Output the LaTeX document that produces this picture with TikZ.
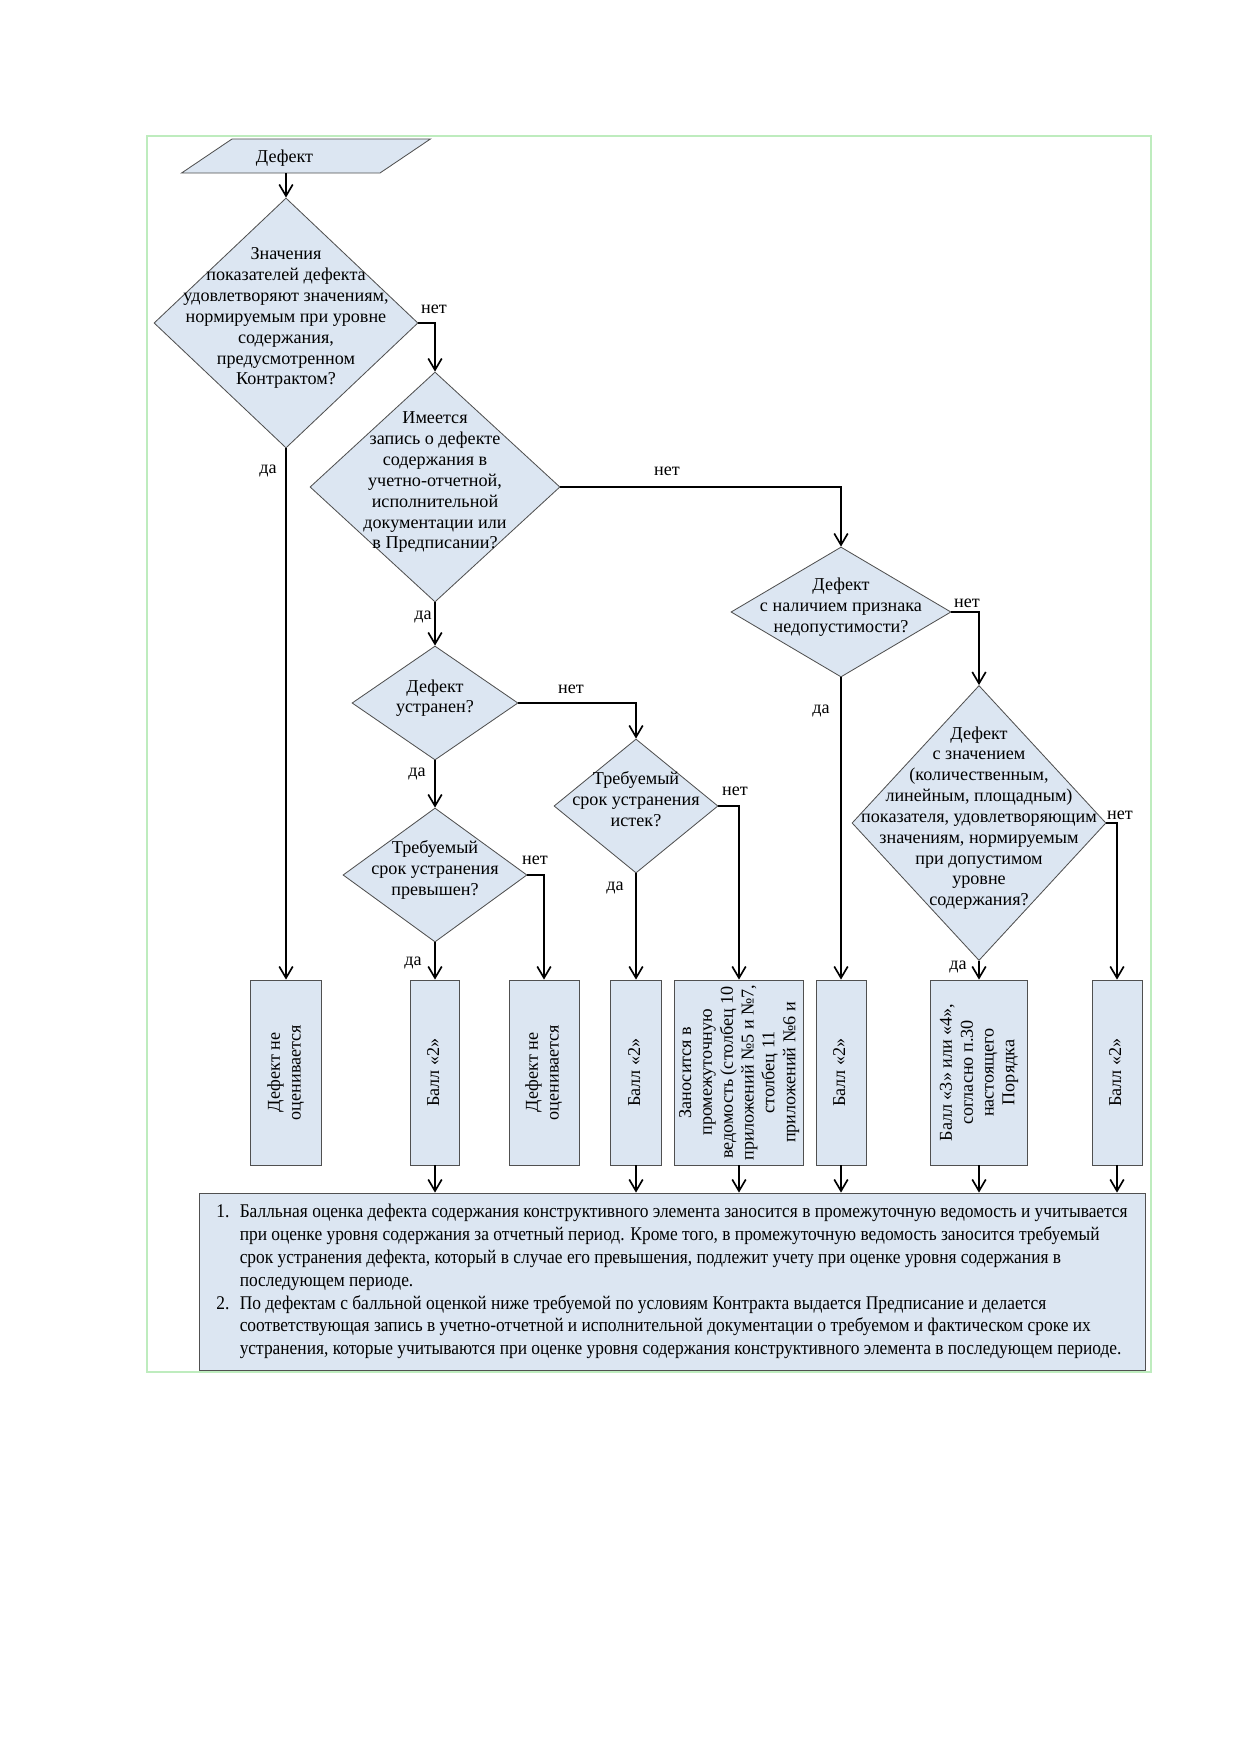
\documentclass[tikz,border=0pt]{standalone}
\usepackage{fontspec}
\setmainfont{Liberation Serif}
\newfontfamily\noteFont[FakeStretch=0.898]{Liberation Serif}
\usetikzlibrary{shapes.geometric}
\usetikzlibrary{arrows.meta}
\definecolor{shapeFill}{RGB}{220,230,242}
\definecolor{shapeBorder}{RGB}{80,80,80}
\definecolor{frameGreen}{RGB}{190,236,190}
\newcommand{\px}{0.48pt}
\newcommand{\questionText}[1]{%%
  \makebox[0pt]{\smash{\begin{tabular}{@{}c@{}}#1\end{tabular}}}%%
}
\newcommand{\sideText}[1]{%%
  \rotatebox{90}{\begin{tabular}{@{}c@{}}#1\end{tabular}}%%
}

\begin{document}
\begin{tikzpicture}[%%
  x=0.48pt,y=-0.48pt,%%
  every node/.style={font=\fontsize{8.7}{10}\selectfont},%%
  frameStyle/.style={draw=frameGreen,line width=0.7pt},%%
  inputStyle/.style={draw=shapeBorder,fill=shapeFill,trapezium,trapezium left angle=34,trapezium right angle=146,inner sep=0pt,text width=148*\px,text height=23*\px,text depth=11*\px,align=left},%%
  decisionStyle/.style 2 args={draw=shapeBorder,fill=shapeFill,diamond,inner sep=0pt,minimum width=#1*\px,minimum height=#2*\px},%%
  resultStyle/.style={draw=shapeBorder,fill=shapeFill,rectangle,inner sep=0pt,minimum width=#1*\px,minimum height=185*\px},%%
  noteStyle/.style={draw=shapeBorder,fill=shapeFill,rectangle,inner sep=0pt,minimum width=946*\px,minimum height=177*\px,font=\fontsize{9.3}{11}\selectfont\noteFont},%%
  lineStyle/.style={-{Straight Barb[length=5.5pt,width=6.5pt]},line width=0.8pt},%%
  labelStyle/.style={inner sep=0pt}%%
]
%% Page and frame.
\useasboundingbox (0,0) rectangle (1239,1752);
\draw[frameStyle] (147,136) rectangle (1151,1372);
%% Input.
\node[inputStyle] (defect) at (306,156) {\hspace*{11.5pt}Дефект};
%% Questions.
\node[decisionStyle={264}{250}] (d1) at (286,323) {\questionText{Значения\\показателей дефекта\\удовлетворяют значениям,\\нормируемым при уровне\\содержания,\\предусмотренном\\Контрактом?}};
\node[decisionStyle={250}{230}] (d2) at (435,487) {\questionText{Имеется\\запись о дефекте\\содержания в\\учетно-отчетной,\\исполнительной\\документации или\\в Предписании?}};
\node[decisionStyle={166}{114}] (d3) at (435,703) {\questionText{Дефект\\устранен?}};
\node[decisionStyle={220}{130}] (d4) at (841,612) {\questionText{Дефект\\с наличием признака\\недопустимости?}};
\node[decisionStyle={254}{275}] (d5) at (979,823) {\questionText{Дефект\\с значением\\(количественным,\\линейным, площадным)\\показателя, удовлетворяющим\\значениям, нормируемым\\при допустимом\\уровне\\содержания?}};
\node[decisionStyle={164}{134}] (d6) at (636,806) {\questionText{Требуемый\\срок устранения\\истек?}};
\node[decisionStyle={184}{134}] (d7) at (435,875) {\questionText{Требуемый\\срок устранения\\превышен?}};
%% Results.
\node[resultStyle=71] (b1) at (286,1072.5) {\sideText{Дефект не\\оценивается}};
\node[resultStyle=49] (b2) at (435,1072.5) {\sideText{Балл «2»}};
\node[resultStyle=70] (b3) at (544,1072.5) {\sideText{Дефект не\\оценивается}};
\node[resultStyle=51] (b4) at (636,1072.5) {\sideText{Балл «2»}};
\node[resultStyle=129] (b5) at (739,1072.5) {\sideText{Заносится в\\промежуточную\\ведомость (столбец 10\\приложений №5 и №7,\\столбец 11\\приложений №6 и}};
\node[resultStyle=50] (b6) at (841,1072.5) {\sideText{Балл «2»}};
\node[resultStyle=97] (b7) at (979,1072.5) {\sideText{Балл «3» или «4»,\\согласно п.30\\настоящего\\Порядка}};
\node[resultStyle=50] (b8) at (1117,1072.5) {\sideText{Балл «2»}};
%% Notes.
\node[noteStyle] (notes) at (672,1281.5) {\begin{tabular}{@{}l@{\hspace{5pt}}l@{}}
1. & Балльная оценка дефекта содержания конструктивного элемента заносится в промежуточную ведомость и учитывается\\
 & при оценке уровня содержания за отчетный период. Кроме того, в промежуточную ведомость заносится требуемый\\
 & срок устранения дефекта, который в случае его превышения, подлежит учету при оценке уровня содержания в\\
 & последующем периоде.\\
2. & По дефектам с балльной оценкой ниже требуемой по условиям Контракта выдается Предписание и делается\\
 & соответствующая запись в учетно-отчетной и исполнительной документации о требуемом и фактическом сроке их\\
 & устранения, которые учитываются при оценке уровня содержания конструктивного элемента в последующем периоде.
\end{tabular}};
%% Connectors.
\draw[lineStyle] (defect.south -| d1.north) -- (d1.north);
\draw[lineStyle] (d1.east) -| (d2.north);
\draw[lineStyle] (d1.south) -- (b1.north);
\draw[lineStyle] (d2.east) -| (d4.north);
\draw[lineStyle] (d2.south) -- (d3.north);
\draw[lineStyle] (d3.east) -| (d6.north);
\draw[lineStyle] (d3.south) -- (d7.north);
\draw[lineStyle] (d7.south) -- (b2.north);
\draw[lineStyle] (d7.east) -| (b3.north);
\draw[lineStyle] (d6.south) -- (b4.north);
\draw[lineStyle] (d6.east) -| (b5.north);
\draw[lineStyle] (d4.south) -- (b6.north);
\draw[lineStyle] (d4.east) -| (d5.north);
\draw[lineStyle] (d5.south) -- (b7.north);
\draw[lineStyle] (d5.east) -| (b8.north);
%% Into the notes.
\draw[lineStyle] (b2.south) -- (b2.south |- notes.north);
\draw[lineStyle] (b4.south) -- (b4.south |- notes.north);
\draw[lineStyle] (b5.south) -- (b5.south |- notes.north);
\draw[lineStyle] (b6.south) -- (b6.south |- notes.north);
\draw[lineStyle] (b7.south) -- (b7.south |- notes.north);
\draw[lineStyle] (b8.south) -- (b8.south |- notes.north);
%% Answers.
\node[labelStyle] (d1no) at (434,309) {нет};
\node[labelStyle] (d1yes) at (268,471) {да};
\node[labelStyle] (d2no) at (667,471) {нет};
\node[labelStyle] (d2yes) at (423,617) {да};
\node[labelStyle] (d3no) at (571,689) {нет};
\node[labelStyle] (d3yes) at (417,774) {да};
\node[labelStyle] (d4no) at (967,603) {нет};
\node[labelStyle] (d4yes) at (821,711) {да};
\node[labelStyle] (d5no) at (1120,815) {нет};
\node[labelStyle] (d5yes) at (958,967) {да};
\node[labelStyle] (d6no) at (735,791) {нет};
\node[labelStyle] (d6yes) at (615,888) {да};
\node[labelStyle] (d7no) at (535,860) {нет};
\node[labelStyle] (d7yes) at (413,963) {да};
\end{tikzpicture}
\end{document}
